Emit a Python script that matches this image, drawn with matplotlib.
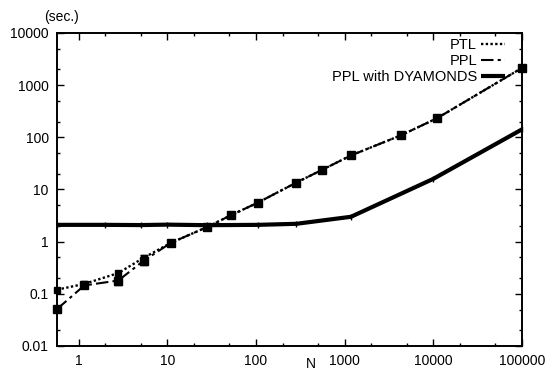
import matplotlib

matplotlib.use("Agg")
import matplotlib.pyplot as plt
from matplotlib.lines import Line2D
from matplotlib.ticker import LogLocator, FuncFormatter, NullFormatter

plt.rcParams["font.family"] = ["Liberation Sans", "DejaVu Sans"]

# problem size N (x) and elapsed time in seconds (y)
n_values = [0.57, 1.16, 2.8, 5.4, 11, 28, 52, 105, 286, 562, 1180, 4300, 11000, 100000]
ptl_time = [0.12, 0.155, 0.25, 0.49, 0.95, 1.9, 3.2, 5.6, 13.6, 24, 45, 109, 232, 2140]
ppl_time = [0.051, 0.145, 0.18, 0.43, 0.95, 1.9, 3.2, 5.6, 13.6, 24, 45, 109, 232, 2140]
ppl_err_low = [0.005, 0.015, 0.03, 0.08, 0.05, 0, 0, 0, 0, 0, 0, 0, 0, 0]
ppl_err_high = [0.005, 0.015, 0.03, 0.12, 0.05, 0, 0, 0, 0, 0, 0, 0, 0, 0]

dy_n = [0.57, 2.0, 5.0, 10, 28, 105, 286, 1180, 10000, 100000]
dy_time = [2.1, 2.1, 2.08, 2.12, 2.07, 2.1, 2.2, 3.0, 16, 142]

labels = ["PTL", "PPL", "PPL with DYAMONDS"]
ptl_style = dict(color="black", ls=(0, (1, 1)), lw=1.7)
ppl_style = dict(color="black", ls=(0, (6, 2, 1.5, 2)), lw=1.5)
dy_style = dict(color="black", ls="-", lw=3, solid_capstyle="butt")

fig = plt.figure(figsize=(5.46, 3.72), dpi=100)
ax = fig.add_axes([0.1044, 0.0699, 0.8516, 0.8414])

ax.plot(n_values, ptl_time, marker="s", ms=4, clip_on=False, zorder=3, **ptl_style)
ax.errorbar(n_values, ppl_time, yerr=[ppl_err_low, ppl_err_high], marker="s", ms=5.5,
            capsize=3, elinewidth=1.3, clip_on=False, zorder=3, **ppl_style)
ax.plot(dy_n, dy_time, marker="|", ms=5, clip_on=False, zorder=2, **dy_style)

ax.set_xscale("log")
ax.set_yscale("log")
ax.set_xlim(0.57, 100000)
ax.set_ylim(0.01, 10000)

fmt = FuncFormatter(lambda v, pos: "%g" % v)
for axis in (ax.xaxis, ax.yaxis):
    axis.set_major_locator(LogLocator(base=10, numticks=20))
    axis.set_minor_locator(LogLocator(base=10, subs=(2, 5), numticks=20))
    axis.set_major_formatter(fmt)
    axis.set_minor_formatter(NullFormatter())

ax.tick_params(which="both", direction="in", top=True, right=True, width=1, labelsize=10)
ax.tick_params(which="major", length=5)
ax.tick_params(which="minor", length=2.5)
ax.tick_params(axis="x", pad=6)
ax.tick_params(axis="y", pad=6)
for spine in ax.spines.values():
    spine.set_linewidth(1.4)

handles = [Line2D([], [], **ptl_style), Line2D([], [], **ppl_style), Line2D([], [], **dy_style)]
ax.legend(handles, labels, loc="upper right", bbox_to_anchor=(0.963, 0.985), frameon=False,
          markerfirst=False, fontsize=10.5, handlelength=1.6,
          handletextpad=0.3, labelspacing=0.15, borderpad=0, borderaxespad=0)

fig.text(0.112, 0.954, "(sec.)", ha="center", va="center", fontsize=10)
fig.text(0.57, 0.022, "N", ha="center", va="center", fontsize=10)

fig.savefig("out.png", dpi=100)
